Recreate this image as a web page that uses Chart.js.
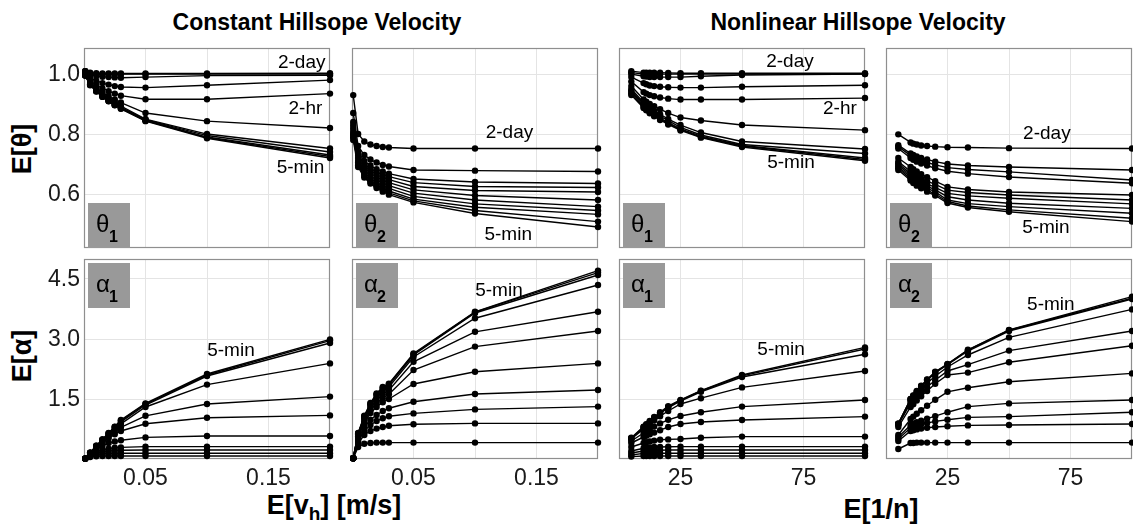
<!DOCTYPE html>
<html>
<head>
<meta charset="utf-8">
<script src="https://cdn.jsdelivr.net/npm/chart.js@4.4.0/dist/chart.umd.min.js"></script>
<style>
  body { margin: 0; background: #fff; width: 1133px; height: 532px; position: relative; overflow: hidden;
         font-family: "Liberation Sans", Arial, sans-serif; }
  canvas { position: absolute; }
  .txt { position: absolute; font-weight: bold; color: #000; white-space: nowrap; text-align: center; }
  .ytitle { transform: translate(-50%, -50%) rotate(-90deg); }
</style>
</head>
<body>
<div class="txt" style="left:167px; top:9px; width:300px; font-size:23px;">Constant Hillsope Velocity</div>
<div class="txt" style="left:708px; top:9px; width:300px; font-size:23px;">Nonlinear Hillsope Velocity</div>
<div class="txt ytitle" style="left:22px; top:149px; font-size:27px;">E[θ]</div>
<div class="txt ytitle" style="left:22px; top:356px; font-size:27px;">E[α]</div>
<div class="txt" style="left:234px; top:490px; width:200px; font-size:27px;">E[v<sub style="font-size:19px;">h</sub>] [m/s]</div>
<div class="txt" style="left:781px; top:494px; width:200px; font-size:27px;">E[1/n]</div>

<script>
// x positions: hillslope velocity [m/s] and 1/n
const velX = [0.001, 0.005, 0.01, 0.015, 0.02, 0.025, 0.03, 0.05, 0.1, 0.2];
const invNX = [5, 10, 11.1, 12.5, 14.3, 16.7, 20, 25, 33.3, 50, 100];

const velTicks = [0.05, 0.10, 0.15];
const invNTicks = [25, 50, 75];
const thetaTicks = [0.6, 0.8, 1.0];
const alphaTicks = [1.5, 3.0, 4.5];

// each row: one aggregation time scale (2-day ... 5-min)
const theta1Const = [
  [1.01, 1.005, 1.003, 1.002, 1.002, 1.002, 1.002, 1.002, 1.002, 1.003],
  [1.01, 1.003, 1.0, 1.0, 1.0, 1.0, 1.0, 1.0, 1.0, 1.0],
  [1.01, 0.998, 0.994, 0.991, 0.99, 0.989, 0.988, 0.99, 0.995, 0.996],
  [1.005, 0.988, 0.978, 0.97, 0.965, 0.96, 0.957, 0.955, 0.963, 0.98],
  [1.0, 0.978, 0.963, 0.952, 0.943, 0.935, 0.928, 0.916, 0.916, 0.935],
  [0.998, 0.97, 0.952, 0.938, 0.926, 0.915, 0.905, 0.87, 0.843, 0.82],
  [0.997, 0.967, 0.947, 0.93, 0.916, 0.904, 0.893, 0.85, 0.80, 0.752],
  [0.996, 0.966, 0.945, 0.928, 0.913, 0.9, 0.889, 0.848, 0.795, 0.74],
  [0.996, 0.965, 0.944, 0.926, 0.911, 0.898, 0.887, 0.846, 0.79, 0.73],
  [0.995, 0.964, 0.943, 0.925, 0.91, 0.897, 0.885, 0.845, 0.788, 0.725],
  [0.995, 0.963, 0.942, 0.924, 0.909, 0.896, 0.884, 0.843, 0.786, 0.72]
];
const theta2Const = [
  [0.93, 0.80, 0.775, 0.765, 0.76, 0.757, 0.755, 0.752, 0.752, 0.752],
  [0.87, 0.76, 0.73, 0.715, 0.705, 0.697, 0.692, 0.68, 0.678, 0.675],
  [0.84, 0.74, 0.71, 0.695, 0.683, 0.675, 0.668, 0.65, 0.64, 0.635],
  [0.83, 0.735, 0.70, 0.685, 0.673, 0.665, 0.658, 0.638, 0.625, 0.622],
  [0.82, 0.73, 0.695, 0.678, 0.665, 0.655, 0.648, 0.625, 0.612, 0.607],
  [0.81, 0.72, 0.688, 0.67, 0.656, 0.646, 0.638, 0.614, 0.595, 0.58],
  [0.80, 0.71, 0.68, 0.66, 0.647, 0.637, 0.628, 0.603, 0.58, 0.558],
  [0.80, 0.705, 0.672, 0.652, 0.638, 0.628, 0.619, 0.592, 0.567, 0.545],
  [0.79, 0.70, 0.665, 0.645, 0.63, 0.62, 0.61, 0.583, 0.556, 0.532],
  [0.79, 0.695, 0.66, 0.64, 0.625, 0.614, 0.604, 0.577, 0.545, 0.508],
  [0.78, 0.69, 0.655, 0.635, 0.62, 0.608, 0.598, 0.572, 0.535, 0.49]
];
const alpha1Const = [
  [0.01, 0.05, 0.07, 0.075, 0.075, 0.075, 0.075, 0.075, 0.075, 0.075],
  [0.01, 0.07, 0.11, 0.13, 0.14, 0.14, 0.142, 0.142, 0.142, 0.142],
  [0.01, 0.09, 0.15, 0.18, 0.2, 0.21, 0.22, 0.225, 0.225, 0.225],
  [0.01, 0.1, 0.18, 0.23, 0.26, 0.28, 0.29, 0.31, 0.31, 0.31],
  [0.01, 0.12, 0.24, 0.33, 0.4, 0.44, 0.47, 0.54, 0.575, 0.575],
  [0.01, 0.13, 0.27, 0.4, 0.52, 0.62, 0.7, 0.88, 1.03, 1.09],
  [0.01, 0.14, 0.29, 0.43, 0.57, 0.69, 0.79, 1.08, 1.375, 1.56],
  [0.01, 0.15, 0.31, 0.46, 0.61, 0.75, 0.88, 1.3, 1.86, 2.39],
  [0.01, 0.16, 0.32, 0.48, 0.63, 0.78, 0.93, 1.35, 2.075, 2.9],
  [0.01, 0.16, 0.33, 0.49, 0.64, 0.8, 0.96, 1.375, 2.1, 2.96],
  [0.01, 0.16, 0.33, 0.49, 0.65, 0.81, 0.975, 1.39, 2.125, 2.99]
];
const alpha2Const = [
  [0.02, 0.3, 0.38, 0.40, 0.41, 0.41, 0.41, 0.41, 0.41, 0.41],
  [0.02, 0.4, 0.6, 0.7, 0.76, 0.8, 0.83, 0.87, 0.89, 0.89],
  [0.02, 0.45, 0.7, 0.85, 0.95, 1.02, 1.07, 1.14, 1.24, 1.31],
  [0.02, 0.5, 0.8, 0.98, 1.1, 1.2, 1.27, 1.43, 1.625, 1.725],
  [0.02, 0.55, 0.9, 1.15, 1.3, 1.42, 1.5, 1.875, 2.18, 2.39],
  [0.02, 0.57, 0.95, 1.22, 1.4, 1.52, 1.62, 2.225, 2.81, 3.2],
  [0.02, 0.6, 1.0, 1.28, 1.47, 1.62, 1.72, 2.43, 3.18, 3.68],
  [0.02, 0.62, 1.03, 1.33, 1.55, 1.7, 1.8, 2.55, 3.52, 4.35],
  [0.02, 0.63, 1.05, 1.36, 1.6, 1.76, 1.85, 2.6, 3.65, 4.6],
  [0.02, 0.64, 1.07, 1.38, 1.62, 1.78, 1.87, 2.62, 3.67, 4.66],
  [0.02, 0.65, 1.08, 1.4, 1.64, 1.8, 1.88, 2.64, 3.68, 4.71]
];
const theta1Nonlin = [
  [1.01, 1.005, 1.005, 1.005, 1.005, 1.005, 1.004, 1.003, 1.003, 1.003, 1.003],
  [1.005, 1.0, 1.0, 1.0, 1.0, 1.0, 1.0, 1.0, 1.0, 1.0, 1.0],
  [1.0, 0.993, 0.992, 0.99, 0.99, 0.99, 0.99, 0.99, 0.993, 0.997, 1.0],
  [0.99, 0.97, 0.966, 0.962, 0.96, 0.958, 0.956, 0.955, 0.955, 0.958, 0.963],
  [0.975, 0.94, 0.935, 0.93, 0.926, 0.922, 0.918, 0.915, 0.915, 0.915, 0.92],
  [0.96, 0.915, 0.908, 0.9, 0.893, 0.883, 0.87, 0.855, 0.845, 0.83, 0.813],
  [0.95, 0.905, 0.898, 0.888, 0.878, 0.866, 0.85, 0.83, 0.805, 0.775, 0.75],
  [0.945, 0.9, 0.892, 0.882, 0.872, 0.86, 0.845, 0.822, 0.797, 0.765, 0.735],
  [0.94, 0.895, 0.886, 0.876, 0.866, 0.853, 0.838, 0.817, 0.793, 0.762, 0.72],
  [0.935, 0.89, 0.882, 0.872, 0.862, 0.85, 0.835, 0.815, 0.79, 0.76, 0.715],
  [0.93, 0.887, 0.879, 0.869, 0.859, 0.847, 0.832, 0.812, 0.788, 0.757, 0.711]
];
const theta2Nonlin = [
  [0.799, 0.772, 0.768, 0.765, 0.762, 0.76, 0.758, 0.756, 0.755, 0.753, 0.752],
  [0.763, 0.735, 0.73, 0.725, 0.72, 0.715, 0.708, 0.70, 0.695, 0.69, 0.68],
  [0.758, 0.728, 0.723, 0.717, 0.711, 0.705, 0.697, 0.688, 0.682, 0.674, 0.647],
  [0.752, 0.72, 0.714, 0.708, 0.702, 0.695, 0.686, 0.676, 0.668, 0.657, 0.636],
  [0.72, 0.69, 0.683, 0.675, 0.666, 0.656, 0.643, 0.624, 0.615, 0.607, 0.597],
  [0.708, 0.675, 0.668, 0.66, 0.652, 0.643, 0.632, 0.613, 0.605, 0.597, 0.58],
  [0.702, 0.668, 0.66, 0.652, 0.643, 0.634, 0.622, 0.602, 0.594, 0.586, 0.567],
  [0.697, 0.662, 0.654, 0.645, 0.636, 0.626, 0.614, 0.591, 0.58, 0.569, 0.552],
  [0.691, 0.656, 0.648, 0.639, 0.63, 0.62, 0.607, 0.58, 0.568, 0.558, 0.536],
  [0.686, 0.65, 0.642, 0.633, 0.624, 0.613, 0.6, 0.575, 0.56, 0.547, 0.519],
  [0.68, 0.645, 0.637, 0.628, 0.619, 0.608, 0.595, 0.57, 0.555, 0.541, 0.508]
];
const alpha1Nonlin = [
  [0.06, 0.075, 0.075, 0.075, 0.075, 0.075, 0.075, 0.075, 0.075, 0.075, 0.075],
  [0.1, 0.14, 0.145, 0.145, 0.145, 0.145, 0.145, 0.145, 0.145, 0.145, 0.145],
  [0.15, 0.2, 0.21, 0.215, 0.22, 0.22, 0.225, 0.225, 0.225, 0.225, 0.225],
  [0.2, 0.27, 0.28, 0.29, 0.3, 0.3, 0.305, 0.31, 0.31, 0.31, 0.31],
  [0.3, 0.4, 0.42, 0.44, 0.46, 0.48, 0.49, 0.5, 0.53, 0.56, 0.56],
  [0.4, 0.55, 0.58, 0.62, 0.66, 0.72, 0.8, 0.875, 0.925, 0.975, 1.06],
  [0.45, 0.65, 0.69, 0.74, 0.81, 0.89, 0.98, 1.075, 1.17, 1.31, 1.475],
  [0.5, 0.75, 0.8, 0.87, 0.96, 1.07, 1.2, 1.375, 1.52, 1.79, 2.2],
  [0.52, 0.78, 0.84, 0.92, 1.01, 1.13, 1.28, 1.45, 1.68, 2.05, 2.62],
  [0.52, 0.8, 0.86, 0.94, 1.03, 1.15, 1.3, 1.465, 1.7, 2.08, 2.75],
  [0.53, 0.81, 0.87, 0.95, 1.05, 1.17, 1.32, 1.475, 1.71, 2.1, 2.79]
];
const alpha2Nonlin = [
  [0.25, 0.4, 0.4, 0.41, 0.41, 0.41, 0.41, 0.41, 0.41, 0.41, 0.41],
  [0.45, 0.7, 0.72, 0.74, 0.76, 0.78, 0.8, 0.82, 0.84, 0.85, 0.875],
  [0.5, 0.78, 0.81, 0.84, 0.87, 0.9, 0.94, 0.98, 1.04, 1.06, 1.17],
  [0.55, 0.85, 0.88, 0.92, 0.96, 1.01, 1.07, 1.17, 1.31, 1.39, 1.475],
  [0.6, 1.0, 1.06, 1.13, 1.22, 1.33, 1.48, 1.68, 1.78, 1.93, 2.14],
  [0.8, 1.3, 1.37, 1.46, 1.57, 1.7, 1.88, 2.1, 2.16, 2.42, 2.83],
  [0.85, 1.4, 1.47, 1.56, 1.67, 1.8, 1.97, 2.2, 2.36, 2.71, 3.2],
  [0.87, 1.45, 1.53, 1.63, 1.75, 1.9, 2.07, 2.3, 2.6, 3.04, 3.74],
  [0.88, 1.48, 1.57, 1.67, 1.8, 1.96, 2.15, 2.36, 2.7, 3.2, 4.0],
  [0.88, 1.5, 1.58, 1.69, 1.82, 1.98, 2.17, 2.37, 2.72, 3.22, 4.02],
  [0.88, 1.5, 1.59, 1.7, 1.83, 1.99, 2.18, 2.375, 2.73, 3.225, 4.06]
];

const FONT = '"Liberation Sans", Arial, sans-serif';
const PW = 246, PH = 200;
const colLeft = [84, 352, 619, 886];
const rowTop = [48, 259];

const panels = [
  { row: 0, col: 0, x: velX, data: theta1Const, tag: 'θ', sub: '1',
    notes: [['2-day', 0.177, 1.037], ['2-hr', 0.18, 0.884], ['5-min', 0.176, 0.687]] },
  { row: 0, col: 1, x: velX, data: theta2Const, tag: 'θ', sub: '2',
    notes: [['2-day', 0.128, 0.803], ['5-min', 0.127, 0.463]] },
  { row: 0, col: 2, x: invNX, data: theta1Nonlin, tag: 'θ', sub: '1',
    notes: [['2-day', 69.5, 1.04], ['2-hr', 89.8, 0.884], ['5-min', 69.9, 0.703]] },
  { row: 0, col: 3, x: invNX, data: theta2Nonlin, tag: 'θ', sub: '2',
    notes: [['2-day', 65.4, 0.80], ['5-min', 65, 0.487]] },
  { row: 1, col: 0, x: velX, data: alpha1Const, tag: 'α', sub: '1',
    notes: [['5-min', 0.1195, 2.7]] },
  { row: 1, col: 1, x: velX, data: alpha2Const, tag: 'α', sub: '2',
    notes: [['5-min', 0.1195, 4.2]] },
  { row: 1, col: 2, x: invNX, data: alpha1Nonlin, tag: 'α', sub: '1',
    notes: [['5-min', 65.9, 2.725]] },
  { row: 1, col: 3, x: invNX, data: alpha2Nonlin, tag: 'α', sub: '2',
    notes: [['5-min', 67, 3.85]] }
];

// panel frame, grey tag box, tick labels and in-panel labels
const panelDeco = {
  id: 'panelDeco',
  beforeDatasetsDraw(chart, args, opts) {
    const { ctx, chartArea: a, scales } = chart;
    ctx.save();
    ctx.strokeStyle = '#8f8f8f';
    ctx.lineWidth = 1.2;
    ctx.strokeRect(a.left + 0.5, a.top + 0.5, a.width - 1, a.height - 1);
    const bw = 42, bh = 45;
    const bx = a.left + 4;
    const by = opts.row === 0 ? a.bottom - bh : a.top + 4;
    ctx.fillStyle = '#999999';
    ctx.fillRect(bx, by, bw, bh);
    ctx.fillStyle = '#000';
    ctx.textBaseline = 'alphabetic';
    ctx.textAlign = 'left';
    ctx.font = '24px ' + FONT;
    ctx.fillText(opts.tag, bx + 8, by + 29);
    ctx.font = 'bold 16px ' + FONT;
    ctx.fillText(opts.sub, bx + 21, by + 39);

    // tick labels, placed through the chart's own scales
    ctx.fillStyle = '#1a1a1a';
    ctx.font = '23px ' + FONT;
    if (opts.yLabels) {
      ctx.textAlign = 'right';
      ctx.textBaseline = 'middle';
      opts.yTicks.forEach(v => ctx.fillText(v.toFixed(1), a.left - 4, scales.y.getPixelForValue(v) + 1));
    }
    if (opts.xLabels) {
      ctx.textAlign = 'center';
      ctx.textBaseline = 'top';
      opts.xTicks.forEach((v, i) => {
        if (i === 1) return;
        const s = opts.isVel ? v.toFixed(2) : String(v);
        ctx.fillText(s, scales.x.getPixelForValue(v), a.bottom + 8);
      });
    }
    ctx.restore();
  },
  afterDatasetsDraw(chart, args, opts) {
    const { ctx, scales } = chart;
    ctx.save();
    ctx.fillStyle = '#000';
    ctx.font = '19px ' + FONT;
    ctx.textAlign = 'center';
    ctx.textBaseline = 'middle';
    opts.notes.forEach(n => {
      ctx.fillText(n[0], scales.x.getPixelForValue(n[1]), scales.y.getPixelForValue(n[2]));
    });
    ctx.restore();
  }
};

panels.forEach(p => {
  const padL = p.col === 0 ? 70 : 0;
  const padB = p.row === 1 ? 40 : 0;
  const m = 8;
  const cv = document.createElement('canvas');
  cv.width = PW + padL + 2 * m;
  cv.height = PH + padB + 2 * m;
  cv.style.left = (colLeft[p.col] - padL - m) + 'px';
  cv.style.top = (rowTop[p.row] - m) + 'px';
  document.body.appendChild(cv);

  const isVel = p.x === velX;
  const isTheta = p.row === 0;
  const xTicks = isVel ? velTicks : invNTicks;
  const yTicks = isTheta ? thetaTicks : alphaTicks;

  new Chart(cv, {
    type: 'line',
    data: {
      datasets: p.data.map(vals => ({
        data: vals.map((v, i) => ({ x: p.x[i], y: v })),
        borderColor: '#000',
        backgroundColor: '#000',
        borderWidth: 1.4,
        pointRadius: 3.2,
        pointBorderWidth: 0,
        pointBackgroundColor: '#000',
        tension: 0,
        clip: false
      }))
    },
    options: {
      responsive: false,
      animation: false,
      devicePixelRatio: 1,
      layout: { padding: { left: padL + m, right: m, top: m, bottom: padB + m } },
      plugins: {
        legend: { display: false },
        tooltip: { enabled: false },
        panelDeco: { row: p.row, tag: p.tag, sub: p.sub, notes: p.notes,
                     xTicks, yTicks, isVel, xLabels: p.row === 1, yLabels: p.col === 0 }
      },
      scales: {
        x: {
          type: 'linear',
          min: 0,
          max: isVel ? 0.2 : 100,
          afterBuildTicks: s => { s.ticks = xTicks.map(v => ({ value: v })); },
          afterFit: s => { s.height = 0; },
          grid: { color: '#e4e4e4', drawTicks: false },
          border: { display: false },
          ticks: { display: false }
        },
        y: {
          type: 'linear',
          min: isTheta ? 0.42 : 0,
          max: isTheta ? 1.087 : 5,
          afterBuildTicks: s => { s.ticks = yTicks.map(v => ({ value: v })); },
          afterFit: s => { s.width = 0; },
          grid: { color: '#e4e4e4', drawTicks: false },
          border: { display: false },
          ticks: { display: false }
        }
      }
    },
    plugins: [panelDeco]
  });
});
</script>
</body>
</html>
